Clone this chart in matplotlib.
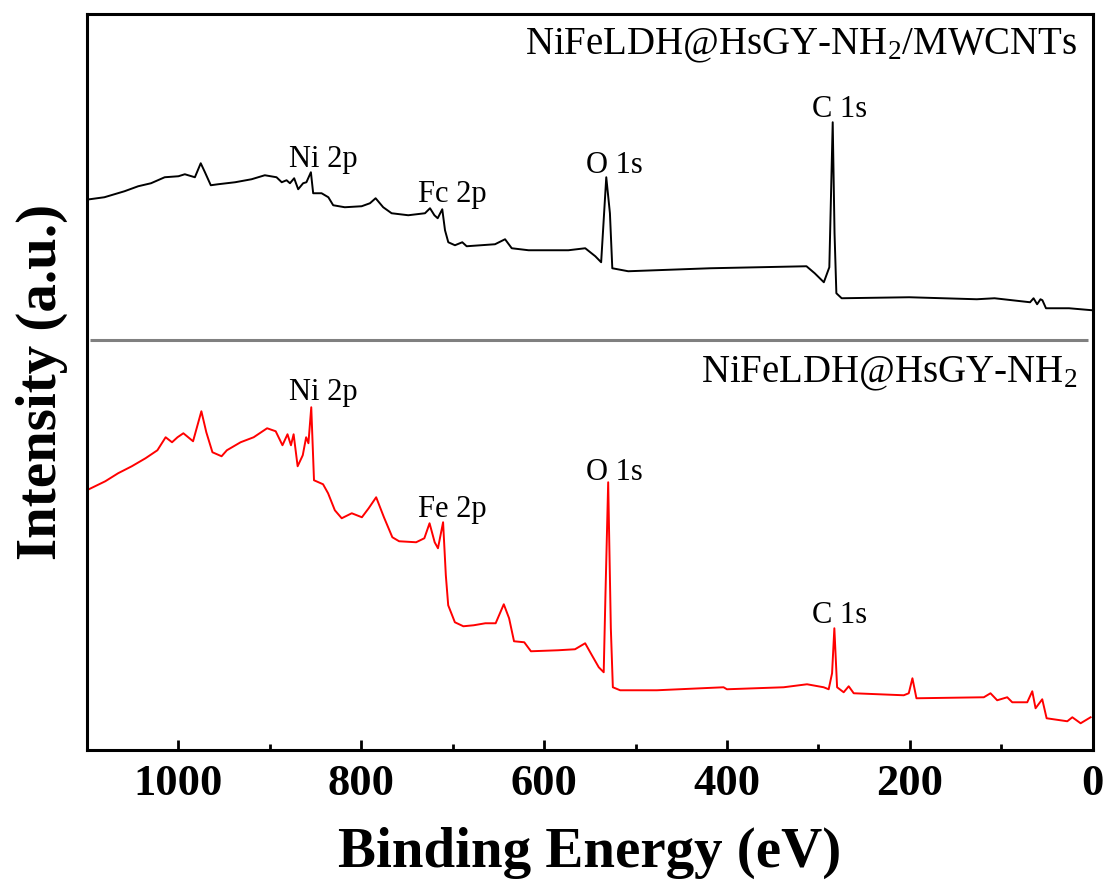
import numpy as np
import matplotlib
matplotlib.use("Agg")
import matplotlib.pyplot as plt

plt.rcParams['font.family'] = ['Liberation Serif', 'DejaVu Serif']
plt.rcParams['mathtext.fontset'] = 'custom'
plt.rcParams['mathtext.rm'] = 'Liberation Serif'
plt.rcParams['mathtext.it'] = 'Liberation Serif:italic'

# binding energy (eV) and intensity (a.u.)
# NiFeLDH@HsGY-NH2/MWCNTs (upper, black)
be_top = [1097, 1081, 1059, 1044, 1030, 1015, 1000, 993, 982, 975.6, 971, 964.6, 956.6, 938,
          920, 905.5, 892.7, 887, 881.7, 878, 873.4, 869, 863.6, 860, 855.1, 852.6, 843.4,
          836, 830.7, 818, 799.6, 790.5, 784.3, 776, 766.8, 748.6, 730.3, 724.8, 720, 716.4,
          711.4, 708.4, 704.8, 697.5, 689.5, 684.7, 653.7, 642.7, 635.4, 617, 573.4, 555,
          544, 537.6, 532, 528, 525.4, 508, 418, 313, 304, 294, 288, 284.3, 282.3, 280.3,
          274.5, 200.6, 126.7, 107.3, 68.4, 64.6, 60.7, 57, 54.9, 51, 25.8, 0.5]
int_top = [551, 553, 559, 564, 567, 573, 574, 576, 573, 587, 578, 565, 566, 568,
           571, 575, 573, 568, 570, 567, 572, 561, 567, 568, 578, 557, 557,
           553, 545, 543, 544, 547, 552, 543, 537, 535, 537, 542, 535, 532,
           541, 520, 508, 505, 508, 504, 506, 511, 502, 500, 500, 502,
           494, 488, 573, 537, 482, 479, 482, 484, 477, 468, 483, 628, 517, 457,
           452, 453, 451, 452, 448, 452, 446, 451, 450, 442, 442, 440]

# NiFeLDH@HsGY-NH2 (lower, red)
be_bot = [1098, 1080, 1066, 1051, 1036, 1023, 1014, 1007, 1001, 994.6, 984, 974.9, 969.5,
          962.8, 952.8, 947, 932, 917.7, 903, 893.6, 886.2, 880.7, 876.9, 874, 869.6, 864,
          860.3, 857.8, 854.7, 851.7, 841.8, 836.3, 828.9, 821.4, 810.4, 799.3, 791.9,
          783.7, 775.2, 766, 758.6, 740, 731, 725.3, 719.7, 716.1, 710.5, 707.5, 704.9,
          697.6, 688.3, 677, 664.3, 653, 644.1, 638.3, 632.9, 621.7, 614.4, 584.7, 566.2,
          555.1, 547.7, 540.2, 534.8, 532.9, 529.9, 527, 524.8, 516.8, 476.6, 403.7, 400,
          338, 312.4, 294.2, 288.7, 285, 282.5, 279.5, 272.3, 266.8, 261.3, 206.6, 201.1,
          197.1, 192.7, 119, 111.7, 104.4, 93.4, 87.9, 71.5, 66, 62.4, 55.1, 50.3, 27.7,
          22.2, 13.1, 2.2]
int_bot = [261, 269, 277, 284, 292, 300, 313, 308, 313, 317, 309, 339, 318,
           298, 294, 300, 308, 313, 322, 319, 305, 316, 305, 316, 284, 295,
           313, 307, 343, 270, 266, 257, 240, 232, 237, 233, 242,
           253, 233, 213, 209, 208, 212, 227, 208, 202, 228, 175, 145,
           128, 124, 125, 127, 127, 146, 132, 109, 108, 99, 100, 101,
           107, 95, 83, 78, 155, 268, 122, 63, 60, 60, 63, 61,
           63, 66, 63, 61, 77, 122, 63, 58, 64, 57, 55, 57,
           72, 52, 53, 57, 50, 53, 48, 48, 59, 42, 51, 32, 29,
           33, 27, 33]

top_peaks = [("Ni 2p", 842, 583), ("Fc 2p", 700.7, 548), ("O 1s", 523, 577), ("C 1s", 276.5, 633)]
bot_peaks = [("Ni 2p", 842, 350), ("Fe 2p", 700.7, 233), ("O 1s", 523, 270), ("C 1s", 276.5, 127)]

fig = plt.figure(figsize=(11.07, 8.9), dpi=100)
ax = fig.add_axes([0.0786, 0.157, 0.9084, 0.827])

ax.plot(be_top, int_top, color='black', lw=1.4)
ax.plot(be_bot, int_bot, color='red', lw=1.4)
ax.hlines(410, 1097, 5, color='#808080', lw=2.2)

for name, x, y in top_peaks + bot_peaks:
    ax.text(x, y, name, ha='center', va='baseline', fontsize=22)

ax.text(17, 696, r'NiFeLDH@HsGY-NH$_2$/MWCNTs', ha='right', va='baseline', fontsize=28)
ax.text(17, 368, r'NiFeLDH@HsGY-NH$_2$', ha='right', va='baseline', fontsize=28)

ax.set_xlim(1100, 0)
ax.set_ylim(0, 736)
ax.set_xticks([1000, 800, 600, 400, 200, 0])
ax.set_xticks(np.arange(900, 0, -200), minor=True)
ax.set_yticks([])
ax.tick_params(axis='x', which='major', direction='in', length=7, width=2, pad=10)
ax.tick_params(axis='x', which='minor', direction='in', length=4, width=2)
for lab in ax.get_xticklabels():
    lab.set_fontsize(32)
    lab.set_fontweight('bold')
for s in ax.spines.values():
    s.set_linewidth(2.2)

ax.set_xlabel('Binding Energy (eV)', fontsize=41, fontweight='bold', labelpad=16)
ax.set_ylabel('Intensity (a.u.)', fontsize=41, fontweight='bold', labelpad=14)

fig.savefig('out.png', dpi=100)
